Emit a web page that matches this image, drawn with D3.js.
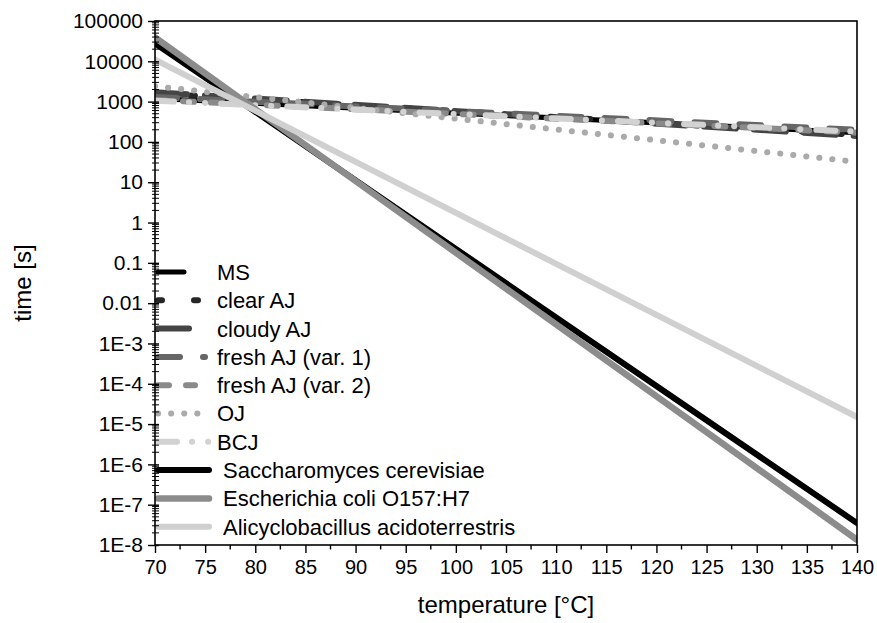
<!DOCTYPE html>
<html>
<head>
<meta charset="utf-8">
<script src="https://cdn.jsdelivr.net/npm/d3@7"></script>
<style>
html,body{margin:0;padding:0;background:#fff;}
svg{display:block;font-family:"Liberation Sans",Arial,sans-serif;}
</style>
</head>
<body>
<svg id="chart" width="877" height="623"></svg>
<script>
// ---- data ----
const temperatures = [70, 140];
const seriesNames = ["MS", "clear AJ", "cloudy AJ", "fresh AJ (var. 1)", "fresh AJ (var. 2)", "OJ", "BCJ",
  "Saccharomyces cerevisiae", "Escherichia coli O157:H7", "Alicyclobacillus acidoterrestris"];
const msValues = [1200, 170];
const clearAJValues = [1600, 150];
const cloudyAJValues = [1700, 140];
const freshAJ1Values = [1300, 200];
const freshAJ2Values = [1100, 170];
const ojValues = [2400, 32];
const bcjValues = [1050, 180];
const saccharomycesValues = [28000, 3.5e-8];
const ecoliValues = [39000, 1.35e-8];
const alicyclobacillusValues = [11000, 1.5e-5];
const seriesValues = [msValues, clearAJValues, cloudyAJValues, freshAJ1Values, freshAJ2Values,
  ojValues, bcjValues, saccharomycesValues, ecoliValues, alicyclobacillusValues];
const xTicks = [70, 75, 80, 85, 90, 95, 100, 105, 110, 115, 120, 125, 130, 135, 140];
const yTicks = [1e5, 1e4, 1e3, 1e2, 1e1, 1, 0.1, 0.01, 1e-3, 1e-4, 1e-5, 1e-6, 1e-7, 1e-8];
const yTickLabels = ["100000", "10000", "1000", "100", "10", "1", "0.1", "0.01", "1E-3", "1E-4", "1E-5", "1E-6", "1E-7", "1E-8"];

(function () {
// ---- styles ----
const styles = [
  {color: "#000", width: 5, dash: null, legLen: 32},
  {color: "#262626", width: 6, dash: "4,32", legLen: 47},
  {color: "#444", width: 6, dash: "32,18", legLen: 37},
  {color: "#666", width: 6, dash: "22,23", legLen: 53},
  {color: "#8a8a8a", width: 6, dash: "11,17", legLen: 43},
  {color: "#aaa", width: 6, dash: "0.1,13", legLen: 50},
  {color: "#d2d2d2", width: 6, dash: "19,15,0.1,16,0.1,16", legLen: 57},
  {color: "#000", width: 6, dash: null, legLen: 57},
  {color: "#8c8c8c", width: 6.5, dash: null, legLen: 57},
  {color: "#d0d0d0", width: 6, dash: null, legLen: 57}
];

const svg = d3.select("#chart");
const pL = 155, pR = 857, pT = 21, pB = 545;

const x = d3.scaleLinear().domain([70, 140]).range([pL, pR]);
const y = d3.scaleLog().domain([1e-8, 1e5]).range([pB, pT]);

svg.append("defs").append("clipPath").attr("id", "clip")
  .append("rect").attr("x", pL).attr("y", pT).attr("width", pR - pL).attr("height", pB - pT);

// lines
const line = d3.line().x(d => x(d[0])).y(d => y(d[1]));
const plot = svg.append("g").attr("clip-path", "url(#clip)");
seriesValues.forEach((vals, i) => {
  const pts = temperatures.map((t, j) => [t, vals[j]]);
  const s = styles[i];
  plot.append("path")
    .attr("d", line(pts))
    .attr("fill", "none")
    .attr("stroke", s.color)
    .attr("stroke-width", s.width)
    .attr("stroke-linecap", "round")
    .attr("stroke-dasharray", s.dash);
});

// legend
const legY0 = 272, legStep = 28.3;
seriesNames.forEach((name, i) => {
  const s = styles[i];
  const yy = legY0 + i * legStep;
  const x0 = pL + 3;
  svg.append("line")
    .attr("x1", x0).attr("x2", x0 + s.legLen - 6)
    .attr("y1", yy).attr("y2", yy)
    .attr("stroke", s.color).attr("stroke-width", s.width)
    .attr("stroke-linecap", "round")
    .attr("stroke-dasharray", s.dash);
  svg.append("text")
    .attr("x", i >= 7 ? 223 : 217)
    .attr("y", yy)
    .attr("dy", "0.36em")
    .attr("font-size", 22)
    .attr("fill", "#000")
    .text(name);
});

// axes
const xAxis = d3.axisBottom(x).tickValues(xTicks).tickSize(8).tickFormat(d3.format("d"));
const gx = svg.append("g").attr("transform", `translate(0,${pB})`).call(xAxis);
gx.select(".domain").remove();
gx.selectAll(".tick line").attr("stroke", "#000").attr("stroke-width", 1.4);
gx.selectAll(".tick text").attr("font-size", 20).attr("fill", "#000").attr("dy", "0.92em")
  .attr("font-family", "Liberation Sans, Arial, sans-serif");

const xMinor = d3.range(72.5, 140, 5);
svg.append("g").selectAll("line").data(xMinor).join("line")
  .attr("x1", d => x(d)).attr("x2", d => x(d))
  .attr("y1", pB).attr("y2", pB + 4.5)
  .attr("stroke", "#000").attr("stroke-width", 1.4);

const yAxis = d3.axisLeft(y).tickValues(yTicks).tickSize(7)
  .tickFormat((d, i) => yTickLabels[i]);
const gy = svg.append("g").attr("transform", `translate(${pL},0)`).call(yAxis);
gy.select(".domain").remove();
gy.selectAll(".tick line").attr("stroke", "#000").attr("stroke-width", 1.4).attr("x2", 4).attr("x1", -7);
gy.selectAll(".tick text").attr("font-size", 21).attr("fill", "#000").attr("x", -12)
  .attr("font-family", "Liberation Sans, Arial, sans-serif");

const yMinor = [];
for (let e = -8; e < 5; e++) for (let m = 2; m <= 9; m++) yMinor.push(m * Math.pow(10, e));
svg.append("g").selectAll("line").data(yMinor).join("line")
  .attr("x1", pL - 3).attr("x2", pL + 4)
  .attr("y1", d => y(d)).attr("y2", d => y(d))
  .attr("stroke", "#000").attr("stroke-width", 1);

// frame
svg.append("rect").attr("x", pL).attr("y", pT).attr("width", pR - pL).attr("height", pB - pT)
  .attr("fill", "none").attr("stroke", "#000").attr("stroke-width", 1.6);

// titles
svg.append("text").attr("x", (pL + pR) / 2).attr("y", 613)
  .attr("text-anchor", "middle").attr("font-size", 24).attr("fill", "#000")
  .text("temperature [°C]");
svg.append("text").attr("transform", `translate(31,${(pT + pB) / 2}) rotate(-90)`)
  .attr("text-anchor", "middle").attr("font-size", 24).attr("fill", "#000")
  .text("time [s]");
})();
</script>
</body>
</html>
